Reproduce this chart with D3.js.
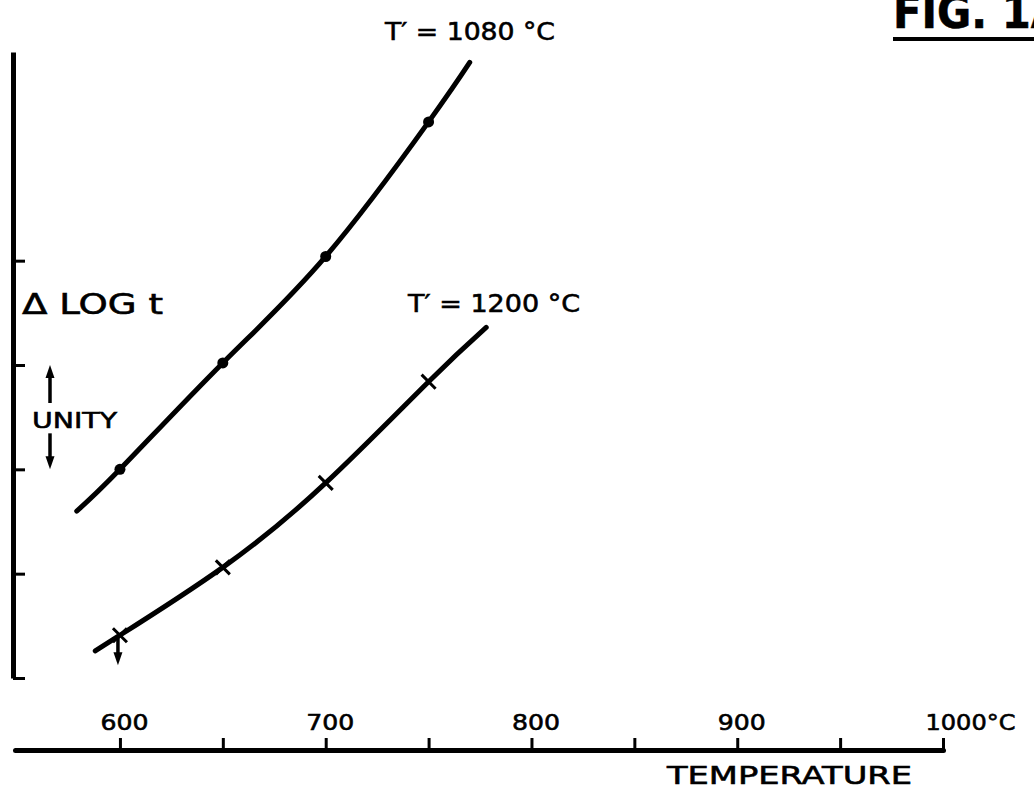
<!DOCTYPE html>
<html>
<head>
<meta charset="utf-8">
<script src="https://cdn.jsdelivr.net/npm/d3@7"></script>
<style>
  body { margin: 0; background: #fff; }
  svg { display: block; }
  text { font-family: "DejaVu Sans", sans-serif; fill: #000; stroke: #000; stroke-width: 0.6px; }
</style>
</head>
<body>
<svg id="chart" width="1034" height="795"></svg>
<script>
// temperatures (°C) of the measured points
const temps = [600, 650, 700, 750];
// delta log t
const dots1080 = [2.0, 3.02, 4.04, 5.33];
const crosses1200 = [0.41, 1.06, 1.87, 2.84];

// hand drawn curves, with the points where the pen started and stopped
const curve1080T = [579, 600, 650, 700, 750, 770];
const curve1080 = [1.6, 2.0, 3.02, 4.04, 5.33, 5.9];
const curve1200T = [588, 600, 650, 700, 750, 778];
const curve1200 = [0.26, 0.41, 1.06, 1.87, 2.84, 3.36];

const xTicks = [600, 650, 700, 750, 800, 850, 900, 950, 1000];
const xLabels = ["600", "", "700", "", "800", "", "900", "", "1000°C"];
const yTicks = [0, 1, 2, 3, 4];

const svg = d3.select("#chart");

const x = d3.scaleLinear().domain([549, 1000]).range([15, 943]);
const y = d3.scaleLinear().domain([0, 6]).range([678, 52]);

// x axis, ticks and labels above the line
const xAxis = svg
  .append("g")
  .attr("transform", "translate(0,750)")
  .call(
    d3
      .axisTop(x)
      .tickValues(xTicks)
      .tickSize(12)
      .tickSizeOuter(0)
      .tickPadding(8)
      .tickFormat((d, i) => xLabels[i])
  );
xAxis.select(".domain").attr("stroke-width", 5).attr("stroke-linecap", "round");
xAxis.selectAll(".tick line").attr("stroke-width", 3);
xAxis
  .selectAll(".tick text")
  .attr("font-family", "DejaVu Sans")
  .attr("font-size", 22)
  .attr("dx", 4)
  .attr("lengthAdjust", "spacingAndGlyphs")
  .attr("textLength", (d) => (d === 1000 ? 90 : 48));
// the last label runs on with the unit
xAxis
  .selectAll(".tick text")
  .filter((d) => d === 1000)
  .attr("text-anchor", "start")
  .attr("dx", 0)
  .attr("x", -18);

// y axis, no numbers
const yAxis = svg
  .append("g")
  .attr("transform", "translate(13,0)")
  .call(
    d3
      .axisRight(y)
      .tickValues(yTicks)
      .tickSize(12)
      .tickSizeOuter(0)
      .tickFormat("")
  );
yAxis.select(".domain").attr("stroke-width", 5);
yAxis.selectAll(".tick line").attr("stroke-width", 3);

// curves
const line = d3
  .line()
  .x((d) => x(d[0]))
  .y((d) => y(d[1]))
  .curve(d3.curveNatural);

svg
  .append("g")
  .selectAll("path")
  .data([d3.zip(curve1080T, curve1080), d3.zip(curve1200T, curve1200)])
  .enter()
  .append("path")
  .attr("d", line)
  .attr("fill", "none")
  .attr("stroke", "#000")
  .attr("stroke-width", 5)
  .attr("stroke-linecap", "round");

// T' = 1080 points
svg
  .append("g")
  .selectAll("circle")
  .data(d3.zip(temps, dots1080))
  .enter()
  .append("circle")
  .attr("cx", (d) => x(d[0]))
  .attr("cy", (d) => y(d[1]))
  .attr("r", 5.5)
  .attr("fill", "#000");

// T' = 1200 points
const cross = d3.symbol().type(d3.symbolX).size(130);
svg
  .append("g")
  .selectAll("path")
  .data(d3.zip(temps, crosses1200))
  .enter()
  .append("path")
  .attr("d", cross)
  .attr("transform", (d) => `translate(${x(d[0])},${y(d[1])})`)
  .attr("fill", "none")
  .attr("stroke", "#000")
  .attr("stroke-width", 3);

function arrow(g, ax, y1, y2) {
  const dir = y2 > y1 ? 1 : -1;
  g.append("line")
    .attr("x1", ax)
    .attr("x2", ax)
    .attr("y1", y1)
    .attr("y2", y2 - dir * 8)
    .attr("stroke", "#000")
    .attr("stroke-width", 3.5);
  g.append("path")
    .attr("d", `M${ax},${y2}L${ax - 4.5},${y2 - dir * 13}L${ax + 4.5},${y2 - dir * 13}Z`)
    .attr("fill", "#000");
}

const notes = svg.append("g");
// unity scale beside the axis
arrow(notes, 50, y(3) + 38, y(3));
arrow(notes, 50, y(2) - 36, y(2));
// first 1200 point is an upper bound
arrow(notes, x(temps[0]) - 2, y(crosses1200[0]) + 2, y(crosses1200[0]) + 30);

// labels
const labels = svg.append("g");
function label(txt, lx, ly, size, len) {
  return labels
    .append("text")
    .attr("x", lx)
    .attr("y", ly)
    .attr("font-size", size)
    .attr("lengthAdjust", "spacingAndGlyphs")
    .attr("textLength", len)
    .text(txt);
}
label("T′ = 1080 °C", 385, 40, 25, 170);
label("T′ = 1200 °C", 408, 312, 25, 172);
label("Δ LOG  t", 22, 314, 29, 141);
label("UNITY", 32, 428, 22, 85);
label("TEMPERATURE", 667, 784, 25, 245);
label("FIG. 1A", 893, 28, 46, 170).attr("font-weight", "bold");
labels
  .append("line")
  .attr("x1", 893)
  .attr("x2", 1040)
  .attr("y1", 39)
  .attr("y2", 39)
  .attr("stroke", "#000")
  .attr("stroke-width", 4);
</script>
</body>
</html>
